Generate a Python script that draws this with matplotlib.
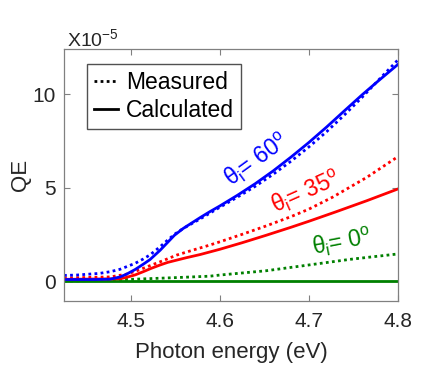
import matplotlib.pyplot as plt

plt.rcParams['font.family'] = ['Liberation Sans', 'DejaVu Sans']
plt.rcParams['mathtext.fontset'] = 'custom'
plt.rcParams['mathtext.rm'] = 'Liberation Sans'
plt.rcParams['mathtext.it'] = 'Liberation Sans'

# photon energy (eV) and QE (x1e-5)
e60_calc = [4.425, 4.46, 4.477, 4.488, 4.4954, 4.505, 4.514, 4.5216, 4.533, 4.5404, 4.549, 4.559,
            4.578, 4.589, 4.60, 4.62, 4.64, 4.66, 4.68, 4.70, 4.72, 4.74, 4.76, 4.78, 4.80]
qe60_calc = [0.08, 0.08, 0.10, 0.22, 0.37, 0.62, 0.90, 1.15, 1.65, 2.02, 2.45, 2.82,
             3.40, 3.72, 4.02, 4.60, 5.22, 5.90, 6.64, 7.42, 8.25, 9.12, 9.98, 10.80, 11.60]
e60_meas = [4.425, 4.439, 4.465, 4.477, 4.488, 4.4954, 4.505, 4.514, 4.5216, 4.533, 4.5404, 4.549,
            4.559, 4.578, 4.60, 4.62, 4.64, 4.66, 4.68, 4.70, 4.72, 4.74, 4.76, 4.78, 4.80]
qe60_meas = [0.30, 0.32, 0.41, 0.50, 0.63, 0.77, 0.95, 1.18, 1.40, 1.84, 2.15, 2.50,
             2.82, 3.33, 3.95, 4.50, 5.08, 5.72, 6.42, 7.18, 8.00, 8.90, 9.85, 10.85, 11.84]

e35_calc = [4.425, 4.488, 4.4954, 4.505, 4.514, 4.523, 4.533, 4.5416, 4.5516, 4.5625, 4.578,
            4.60, 4.625, 4.652, 4.68, 4.70, 4.73, 4.765, 4.80]
qe35_calc = [0.09, 0.12, 0.20, 0.33, 0.50, 0.68, 0.86, 1.00, 1.12, 1.25, 1.42,
             1.70, 2.05, 2.45, 2.88, 3.20, 3.70, 4.30, 4.93]
e35_meas = [4.425, 4.477, 4.4954, 4.505, 4.514, 4.523, 4.533, 4.5516, 4.570, 4.589, 4.60,
            4.625, 4.652, 4.68, 4.70, 4.727, 4.765, 4.80]
qe35_meas = [0.16, 0.22, 0.37, 0.52, 0.68, 0.85, 1.03, 1.39, 1.66, 1.93, 2.10,
             2.50, 2.95, 3.45, 3.85, 4.50, 5.55, 6.66]

e0_calc = [4.425, 4.80]
qe0_calc = [0.0, 0.0]
e0_meas = [4.425, 4.46, 4.50, 4.549, 4.589, 4.60, 4.652, 4.70, 4.746, 4.80]
qe0_meas = [0.0, 0.03, 0.09, 0.18, 0.26, 0.32, 0.55, 0.86, 1.16, 1.45]

blue, red, green = '#0000ff', '#ff0000', '#008000'
lw = 2.0
dots = (0, (1, 1.2))

fig = plt.figure(figsize=(4.43, 3.8), dpi=100)
ax = fig.add_axes([0.1445, 0.2079, 0.7535, 0.6631])

ax.plot(e0_calc, qe0_calc, color=green, lw=lw)
ax.plot(e0_meas, qe0_meas, color=green, lw=lw, ls=dots)
ax.plot(e35_calc, qe35_calc, color=red, lw=lw)
ax.plot(e35_meas, qe35_meas, color=red, lw=lw, ls=dots)
ax.plot(e60_calc, qe60_calc, color=blue, lw=lw)
ax.plot(e60_meas, qe60_meas, color=blue, lw=lw, ls=dots)

# legend proxies
h1, = ax.plot([], [], color='k', lw=lw, ls=dots, label='Measured')
h2, = ax.plot([], [], color='k', lw=lw, label='Calculated')
leg = ax.legend(handles=[h1, h2], loc='upper left', bbox_to_anchor=(0.069, 0.94),
                fontsize=16.5, frameon=True, fancybox=False, handlelength=1.05,
                handletextpad=0.36, borderpad=0.3, labelspacing=0.22, borderaxespad=0)
leg.get_frame().set_edgecolor('#262626')
leg.get_frame().set_linewidth(1.0)

ax.text(4.641, 6.5, r'$\theta_i$= 60$^o$', color=blue, fontsize=16.5, rotation=36,
        ha='center', va='center')
ax.text(4.697, 4.75, r'$\theta_i$= 35$^o$', color=red, fontsize=16.5, rotation=24,
        ha='center', va='center')
ax.text(4.737, 2.05, r'$\theta_i$= 0$^o$', color=green, fontsize=16.5, rotation=11,
        ha='center', va='center')

ax.set_xlim(4.425, 4.8)
ax.set_ylim(-1.07, 12.43)
ax.set_xticks([4.5, 4.6, 4.7, 4.8])
ax.set_yticks([0, 5, 10])
ax.set_yticklabels(['0', '5', '10'])
ax.tick_params(direction='in', top=True, right=True, length=4, width=0.8,
               colors='#808080', labelcolor='#262626', labelsize=15)
ax.tick_params(axis='x', pad=8)
ax.tick_params(axis='y', pad=6)
for s in ax.spines.values():
    s.set_color('#808080')
    s.set_linewidth(0.9)

ax.set_xlabel('Photon energy (eV)', fontsize=16, color='#262626', labelpad=8)
ax.set_ylabel('QE', fontsize=16, color='#262626', labelpad=1)
fig.text(0.151, 0.897, r'X10$^{\mathregular{-5}}$', fontsize=14, color='#262626',
         ha='left', va='center')

fig.savefig('out.png', dpi=100)
